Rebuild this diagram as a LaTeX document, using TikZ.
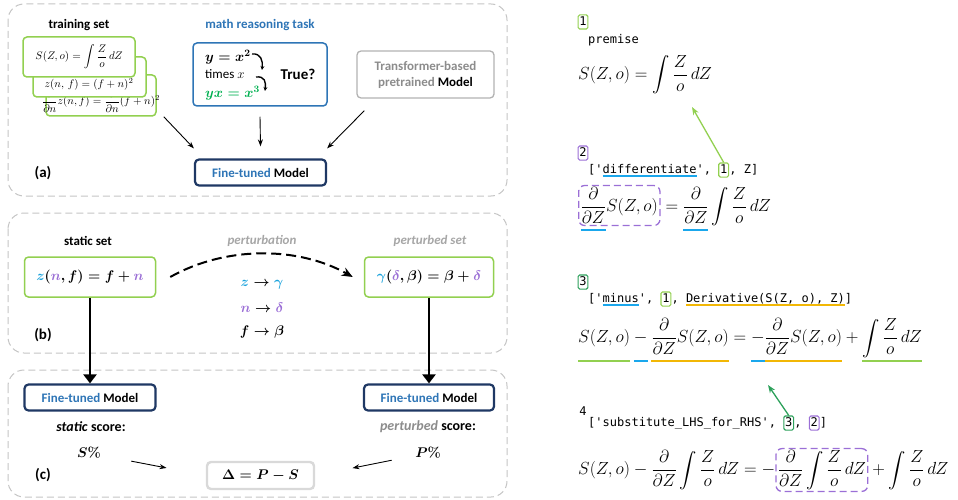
\documentclass[tikz,border=0pt]{standalone}
\usepackage{fix-cm}
\usepackage{exscale}
\usepackage[no-math]{fontspec}
\setmainfont{Carlito}
\setmonofont{DejaVu Sans Mono}
\usetikzlibrary{arrows.meta,positioning}
\definecolor{lgreen}{HTML}{92D050}
\definecolor{dgreen}{HTML}{2CA05A}
\definecolor{mblue}{HTML}{2E75B6}
\definecolor{navy}{HTML}{1F3864}
\definecolor{zblue}{HTML}{1CA3DC}
\definecolor{npurple}{HTML}{9B6FD6}
\definecolor{ygreen}{HTML}{00B050}
\definecolor{ulblue}{HTML}{1AA7EC}
\definecolor{ulorange}{HTML}{F2B705}
\definecolor{framegray}{HTML}{C4C4C4}
\definecolor{txtgray}{HTML}{8C8C8C}
\definecolor{lightgray}{HTML}{A6A6A6}

% coloured underline for code text
\newcommand\ulc[2]{{\setbox0\hbox{#2}\rlap{\smash{\color{#1}\rule[-4pt]{\wd0}{1.8pt}}}\box0}}
% coloured underline for parts of an equation
\newcommand\eul[2]{{\setbox0\hbox{$\displaystyle#2$}\rlap{\smash{\color{#1}\rule[-19.5pt]{\wd0}{2pt}}}\box0}}

\begin{document}
\begin{tikzpicture}[x=1pt,y=-1pt,
  frame/.style={draw=framegray,line width=1pt,dash pattern=on 7pt off 4pt,rounded corners=16pt},
  head/.style={font=\fontsize{13}{15}\selectfont\bfseries},
  tag/.style={font=\fontsize{15}{18}\selectfont\bfseries},
  box/.style={draw,rounded corners=4pt,line width=1.5pt,inner sep=2pt},
  gbox/.style={box,draw=lgreen,fill=white},
  ftbox/.style={box,draw=navy,line width=2.2pt,minimum width=131pt,minimum height=26pt,
    font=\fontsize{13}{15}\selectfont\bfseries},
  bmath/.style={font=\fontsize{14}{17}\selectfont\boldmath},
  tmath/.style={font=\fontsize{11}{13}\selectfont},
  arr/.style={-{Stealth[length=7pt,width=5pt]},line width=0.9pt},
  fatarr/.style={-{Triangle[length=9pt,width=13pt]},line width=2.4pt},
  curl/.style={-{Stealth[length=4pt,width=4pt]},line width=1.4pt},
  dasharr/.style={-{Stealth[length=11pt,width=9pt]},line width=2pt,dash pattern=on 10pt off 5pt},
  garr/.style={-{Stealth[length=8pt,width=6pt]},line width=1.3pt},
  code/.style={font=\fontsize{12}{14}\ttfamily,inner sep=0pt,text height=9pt,text depth=2.5pt},
  numbox/.style={code,draw,rounded corners=1.5pt,line width=1.1pt,inner sep=1.3pt},
  eqn/.style={font=\fontsize{17.5}{20}\selectfont,inner sep=0pt},
  hlbox/.style={draw=npurple,line width=1.3pt,dash pattern=on 7pt off 4pt,rounded corners=6pt,inner sep=2pt}]
\useasboundingbox (0,0) rectangle (958,500);

% panels
\draw[frame] (8,4) rectangle (507,196);
\draw[frame] (8,213) rectangle (507,353);
\draw[frame] (8,370) rectangle (507,497);

% (a)
\node[head] (trainlbl) at (79,25) {training set};
\node[gbox,minimum width=110pt,minimum height=41pt] (train3) at (101,95.5) {};
\node[tmath] (t3eq) at (101,101) {$\displaystyle\frac{\partial}{\partial n}z(n,f)=\frac{\partial}{\partial n}(f+n)^2$};
\node[gbox,minimum width=113pt,minimum height=40pt] (train2) at (89.5,77) {};
\node[tmath] (t2eq) at (89,84) {$z(n,\,f)=(f+n)^2$};
\node[gbox,minimum width=112pt,minimum height=40pt,tmath] (train1) at (79,57) {$\displaystyle S(Z,o)=\int\frac{Z}{o}\,dZ$};

\node[head,text=mblue] (tasklbl) at (260,25) {math reasoning task};
\node[box,draw=mblue,minimum width=134pt,minimum height=63pt] (task) at (260,74.5) {};
\node[bmath,anchor=west,inner sep=0pt] (l1) at (205,57) {$y=x^2$};
\node[font=\fontsize{13}{15}\selectfont,anchor=west,inner sep=0pt] (l2) at (205,74) {times $x$};
\node[bmath,anchor=west,inner sep=0pt,text=ygreen] (l3) at (205,93) {$yx=x^3$};
\node[font=\fontsize{15}{18}\selectfont\bfseries] (true) at (298,74) {True?};
\coordinate (c1a) at (252,54);
\coordinate (c1b) at (262,70);
\coordinate (c2a) at (256,77);
\coordinate (c2b) at (265,91);
\draw[curl] (c1a) .. controls +(9,-1) and +(1,-9) .. (c1b);
\draw[curl] (c2a) .. controls +(9,-1) and +(1,-9) .. (c2b);

\node[box,draw=gray!60,line width=1.3pt,minimum width=137pt,minimum height=47pt,align=center,
  font=\fontsize{13}{16}\selectfont\bfseries,text=txtgray] (pre) at (425.5,74.5)
  {Transformer-based\\pretrained \textcolor{black}{Model}};

\node[ftbox] (fta) at (260.5,172.5) {\textcolor{mblue}{Fine-tuned} Model};
\node[tag] (taga) at (43,173) {(a)};

\draw[arr] ([xshift=7pt]train3.south east) -- ([yshift=10pt]fta.north west);
\draw[arr] ([yshift=-10pt]task.south) -- ([yshift=12pt]fta.north);
\draw[arr] ([xshift=8pt,yshift=-12pt]pre.south west) -- ([yshift=10pt]fta.north east);

% (b)
\node[head] (statlbl) at (88,241) {static set};
\node[gbox,minimum width=131pt,minimum height=40pt,bmath] (stat) at (90,277)
  {$\textcolor{zblue}{z}(\textcolor{npurple}{n},f)=f+\textcolor{npurple}{n}$};
\node[head,font=\fontsize{13}{15}\selectfont\bfseries\itshape,text=lightgray] (pertlbl) at (262,241) {perturbation};
\node[head,font=\fontsize{13}{15}\selectfont\bfseries\itshape,text=lightgray] (psetlbl) at (430,241) {perturbed set};
\node[gbox,minimum width=129pt,minimum height=40pt,bmath] (pert) at (429,277)
  {$\textcolor{zblue}{\gamma}(\textcolor{npurple}{\delta},\beta)=\beta+\textcolor{npurple}{\delta}$};
\draw[dasharr] ([xshift=14pt]stat.east) .. controls +(55,-31) and +(-55,-31) .. ([xshift=-11pt]pert.west);

\node[bmath] (m1) at (262,285) {$\textcolor{zblue}{z}\rightarrow\textcolor{zblue}{\gamma}$};
\node[bmath] (m2) at (262,308) {$\textcolor{npurple}{n}\rightarrow\textcolor{npurple}{\delta}$};
\node[bmath] (m3) at (262,332) {$f\rightarrow\beta$};
\node[tag] (tagb) at (43,335) {(b)};

% (c)
\node[ftbox] (ftl) at (90,397.5) {\textcolor{mblue}{Fine-tuned} Model};
\node[ftbox,minimum width=130pt] (ftr) at (429,397.5) {\textcolor{mblue}{Fine-tuned} Model};
\draw[fatarr] (stat.south) -- (ftl.north);
\draw[fatarr] (pert.south) -- (ftr.north);

\node[font=\fontsize{14}{17}\selectfont\bfseries] (sscore) at (91,427) {\textit{static} score:};
\node[font=\fontsize{14}{17}\selectfont\bfseries] (pscore) at (428,427) {\textcolor{txtgray}{\textit{perturbed}} score:};
\node[bmath] (spct) at (89,453) {$S\%$};
\node[bmath] (ppct) at (428,453) {$P\%$};
\node[box,draw=gray!30,line width=2.4pt,minimum width=107pt,minimum height=27pt,bmath] (delta) at (260.5,475.5) {$\Delta=P-S$};
\node[tag] (tagc) at (43,475) {(c)};
\draw[arr,shorten <=43pt,shorten >=40pt] (spct.center) -- (delta.west);
\draw[arr,shorten <=37pt,shorten >=38pt] (ppct.center) -- (delta.east);

% proof steps
\node[numbox,draw=lgreen] (n1) at (583,22) {1};
\node[code,anchor=west] (prem) at (588,40) {premise};
\node[eqn,anchor=west] (eq1) at (578,75) {$\displaystyle S(Z,o)=\int\frac{Z}{o}\,dZ$};

\node[numbox,draw=npurple] (n2) at (583,153) {2};
\node[code,anchor=west] (c2a) at (588,170) {['\ulc{ulblue}{differentiate}',};
\node[numbox,draw=lgreen,right=7pt of c2a] (r2one) {1};
\node[code,right=0pt of r2one] (c2b) {, Z]};
\node[eqn,hlbox,anchor=west] (e2l) at (578,205.5)
  {$\displaystyle\eul{ulblue}{\frac{\partial}{\partial Z}}S(Z,o)$};
\node[eqn,anchor=base west] (e2r) at (e2l.base east)
  {$\displaystyle{}=\eul{ulblue}{\frac{\partial}{\partial Z}}\int\frac{Z}{o}\,dZ$};

\node[numbox,draw=dgreen] (n3) at (583,282) {3};
\node[code,anchor=west] (c3a) at (588,299) {['\ulc{ulblue}{minus}',};
\node[numbox,draw=lgreen,right=7pt of c3a] (r3one) {1};
\node[code,right=0pt of r3one] (c3b) {, \ulc{ulorange}{Derivative(S(Z, o), Z)}]};
\node[eqn,anchor=west] (eq3) at (578,338)
  {$\displaystyle\eul{lgreen}{S(Z,o)}\mathbin{\eul{ulblue}{-}}\eul{ulorange}{\frac{\partial}{\partial Z}S(Z,o)}
   =\mathbin{\eul{ulblue}{-}}\eul{ulorange}{\frac{\partial}{\partial Z}S(Z,o)}+\eul{lgreen}{\int\frac{Z}{o}\,dZ}$};

\node[code] (n4) at (583,412) {4};
\node[code,anchor=west] (c4a) at (588,423) {['substitute\_LHS\_for\_RHS',};
\node[numbox,draw=dgreen,right=7pt of c4a] (r4three) {3};
\node[code,right=0pt of r4three] (c4b) {,};
\node[numbox,draw=npurple,right=7pt of c4b] (r4two) {2};
\node[code,right=0pt of r4two] (c4c) {]};
\node[eqn,anchor=west] (e4a) at (578,470)
  {$\displaystyle S(Z,o)-\frac{\partial}{\partial Z}\int\frac{Z}{o}\,dZ=-$};
\node[eqn,hlbox,anchor=base west] (e4b) at (e4a.base east)
  {$\displaystyle\frac{\partial}{\partial Z}\int\frac{Z}{o}\,dZ$};
\node[eqn,anchor=base west] (e4c) at (e4b.base east) {$\displaystyle{}+\int\frac{Z}{o}\,dZ$};

\coordinate (tip1) at (692,107);
\coordinate (tip3) at (768,385);
\draw[garr,color=lgreen] (r2one.north) -- (tip1);
\draw[garr,color=dgreen] (r4three.north) -- (tip3);
\end{tikzpicture}
\end{document}
